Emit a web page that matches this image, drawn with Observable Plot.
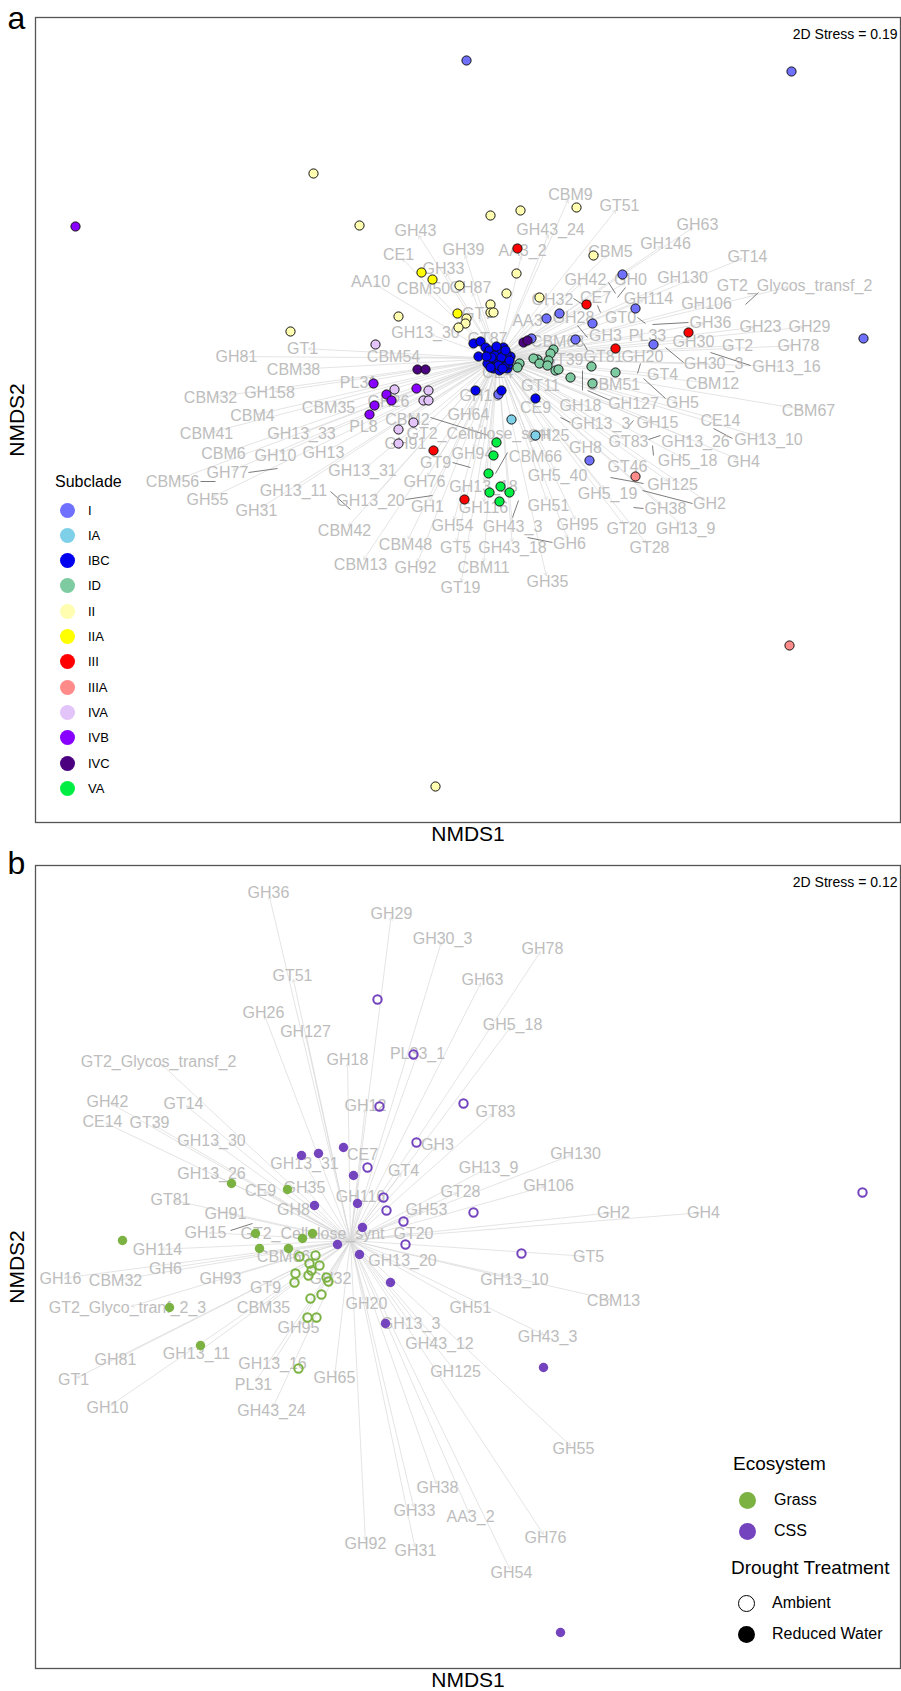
<!DOCTYPE html>
<html><head><meta charset="utf-8">
<script src="https://cdn.jsdelivr.net/npm/d3@7"></script>
<script src="https://cdn.jsdelivr.net/npm/@observablehq/plot@0.6"></script>
<style>
body{margin:0;background:#fff;}
#wrap{position:relative;width:901px;height:1691px;overflow:hidden;font-family:"Liberation Sans",Arial,sans-serif;}
#wrap svg{display:block;}
.abs{position:absolute;white-space:nowrap;line-height:1;}
</style></head><body><div id="wrap"></div>
<script>
const FONT = '"Liberation Sans", Arial, sans-serif';

// ---------- Panel a data ----------
const subclades = ["I","IA","IBC","ID","II","IIA","III","IIIA","IVA","IVB","IVC","VA"];
const subcladeColors = ["#7070FF","#7ECFE8","#0000EE","#7ECBA1","#FFFDAF","#FFFF00","#FF0000","#FF8A8A","#E3C4F9","#8800FF","#4B0080","#00EE44"];

const ptsI = [[-0.31,2.98],[2.94,2.87],[3.66,0.20],[1.25,0.84],[1.38,0.50],[0.49,0.40],[0.62,0.45],[0.95,0.35],[0.78,0.19],[1.56,0.14],[0.34,0.20],[0.01,-0.36],[0.92,-1.02]];
const ptsIA = [[0.14,-0.61],[0.38,-0.77]];
const ptsIBC = [[-0.24,0.15],[-0.17,0.17],[-0.12,0.11],[-0.04,0.06],[0,0],[0.05,0.05],[0.08,-0.04],[-0.07,-0.02],[0.10,-0.10],[0.03,-0.05],[-0.02,-0.02],[-0.09,0.06],[0.13,0.02],[-0.05,-0.08],[0.06,0.11],[-0.19,0.02],[-0.08,0.08],[0.00,0.09],[0.09,0.04],[0.11,-0.06],[-0.04,-0.10],[0.02,-0.12],[-0.10,-0.05],[0.07,-0.08],[-0.03,0.03],[0.04,0.01],[-0.06,0.01],[0.01,-0.07],[0.08,0.08],[-0.11,0.02],[0.12,-0.02],[-0.01,0.12],[0.05,-0.10],[-0.07,-0.09],[-0.22,-0.32],[0.04,-0.32],[0.38,-0.40]];
const ptsID = [[0.56,0.09],[0.53,0.05],[0.51,-0.02],[0.40,-0.01],[0.36,0.00],[0.42,-0.05],[0.50,-0.07],[0.58,-0.12],[0.61,-0.11],[0.22,-0.05],[0.20,-0.09],[0.94,-0.08],[1.18,-0.14],[0.73,-0.19],[0.95,-0.25]];
const ptsII = [[-1.84,1.85],[-1.38,1.33],[-0.07,1.43],[0.23,1.48],[0.79,1.51],[0.96,1.03],[-0.38,0.73],[0.19,0.85],[0.09,0.65],[0.42,0.61],[-0.99,0.42],[-2.07,0.27],[-0.07,0.54],[-0.07,0.46],[-0.04,0.46],[-0.31,0.40],[-0.32,0.35],[-0.39,0.31],[-0.62,-4.28]];
const ptsIIA = [[-0.76,0.86],[-0.65,0.79],[-0.40,0.45]];
const ptsIII = [[0.20,1.10],[0.89,0.54],[1.91,0.26],[1.18,0.10],[-0.64,-0.92],[-0.33,-1.41]];
const ptsIIIA = [[1.38,-1.18],[2.92,-2.87]];
const ptsIVA = [[-1.22,0.14],[-1.03,-0.31],[-0.69,-0.32],[-0.74,-0.42],[-0.69,-0.42],[-0.84,-0.64],[-0.99,-0.71],[-0.99,-0.85]];
const ptsIVB = [[-4.22,1.32],[-1.24,-0.25],[-0.81,-0.30],[-1.11,-0.36],[-1.06,-0.42],[-1.23,-0.47],[-1.28,-0.56]];
const ptsIVC = [[-0.80,-0.11],[-0.72,-0.11],[0.26,0.16],[0.30,0.18]];
const ptsVA = [[-0.01,-0.84],[-0.04,-0.97],[-0.09,-1.15],[0.03,-1.28],[-0.08,-1.34],[0.12,-1.34],[0.02,-1.43]];

const vectorsA = [["CBM9",0.73,1.64],["GT51",1.22,1.53],["GH63",2.00,1.34],["GH43_24",0.53,1.29],["GH146",1.68,1.15],["CBM5",1.13,1.07],["GT14",2.50,1.02],["GH39",-0.34,1.09],["AA3_2",0.25,1.08],["GH43",-0.82,1.28],["CE1",-0.99,1.04],["GH33",-0.54,0.90],["AA10",-1.27,0.77],["CBM50",-0.74,0.70],["GH87",-0.27,0.71],["GH42",0.88,0.79],["GH0",1.33,0.79],["GH130",1.85,0.81],["GT2_Glycos_transf_2",2.97,0.73],["GH32",0.55,0.59],["CE7",0.98,0.61],["GH114",1.51,0.60],["GH106",2.09,0.55],["GT7",-0.20,0.45],["AA3",0.30,0.38],["GH28",0.76,0.41],["GT0",1.23,0.41],["GH36",2.13,0.36],["GH23",2.63,0.32],["GH29",3.12,0.32],["GH13_30",-0.72,0.26],["GT87",-0.10,0.20],["CBM63",0.60,0.17],["GH3",1.08,0.23],["PL33",1.50,0.23],["GH30",1.96,0.17],["GT2",2.40,0.13],["GH78",3.01,0.13],["GT39",0.66,-0.01],["GT81",1.06,0.02],["GH20",1.45,0.02],["GH30_3",2.16,-0.05],["GH13_16",2.89,-0.08],["CE4",0.00,-0.14],["GT4",1.65,-0.16],["GT11",0.43,-0.27],["CBM51",1.16,-0.26],["CBM12",2.15,-0.25],["GH16",-0.17,-0.37],["GH18",0.83,-0.47],["GH127",1.36,-0.45],["GH5",1.85,-0.44],["CE9",0.38,-0.49],["CBM67",3.11,-0.52],["GH64",-0.29,-0.56],["GH13_3",1.03,-0.65],["GH15",1.60,-0.64],["CE14",2.23,-0.62],["GT2_Cellulose_synt",-0.19,-0.75],["GH25",0.51,-0.77],["GT83",1.31,-0.83],["GH13_26",1.98,-0.83],["GH13_10",2.71,-0.81],["GH8",0.88,-0.89],["GH94",-0.25,-0.95],["CBM66",0.38,-0.98],["GH5_18",1.90,-1.02],["GH4",2.46,-1.03],["GT46",1.30,-1.08],["GH5_40",0.60,-1.17],["GH125",1.75,-1.26],["GH13_18",-0.14,-1.28],["GH5_19",1.10,-1.35],["GH2",2.12,-1.45],["GH116",-0.14,-1.49],["GH51",0.51,-1.47],["GH38",1.68,-1.50],["GH54",-0.45,-1.67],["GH43_3",0.15,-1.68],["GH95",0.80,-1.66],["GT20",1.29,-1.70],["GH13_9",1.88,-1.70],["GT5",-0.42,-1.89],["GH43_18",0.15,-1.89],["GH6",0.72,-1.85],["GT28",1.52,-1.89],["CBM11",-0.14,-2.09],["GT19",-0.37,-2.29],["GH35",0.50,-2.23],["CBM41",-2.91,-0.75],["GH13_33",-1.96,-0.75],["PL8",-1.34,-0.68],["CBM6",-2.74,-0.95],["GH10",-2.22,-0.97],["GH13",-1.74,-0.94],["GH91",-0.92,-0.85],["GT9",-0.62,-1.04],["GH77",-2.70,-1.14],["GH13_31",-1.35,-1.12],["CBM56",-3.25,-1.23],["GH55",-2.90,-1.41],["GH13_11",-2.04,-1.32],["GH76",-0.73,-1.23],["GH13_20",-1.27,-1.42],["GH1",-0.70,-1.48],["GH31",-2.41,-1.52],["CBM42",-1.53,-1.72],["CBM48",-0.92,-1.86],["CBM13",-1.37,-2.06],["GH92",-0.82,-2.09],["GT1",-1.95,0.10],["GH81",-2.61,0.02],["CBM54",-1.04,0.02],["CBM38",-2.04,-0.11],["PL31",-1.39,-0.24],["CBM32",-2.87,-0.39],["GH158",-2.28,-0.34],["GH26",-1.09,-0.43],["CBM4",-2.45,-0.57],["CBM35",-1.69,-0.49],["CBM2",-0.90,-0.61]];

// label-to-vector leader segments [x1,y1,x2,y2]
const leadersA = [[-2.49,-1.14,-2.20,-1.10],[-2.97,-1.23,-2.82,-1.23],[-1.67,-1.33,-1.47,-1.51],[-0.92,-1.41,-0.65,-1.37],[-0.45,-1.04,-0.27,-1.09],[-0.67,-0.59,-0.09,-0.77],[2.61,0.66,2.48,0.54],[1.55,0.34,1.91,0.36],[1.68,0.11,1.86,-0.04],[2.13,0.06,2.53,-0.07],[0.90,-0.32,1.13,-0.42],[1.46,-0.20,1.68,-0.40],[1.43,-0.05,1.40,-0.15],[1.11,0.76,1.18,0.65],[1.00,0.53,1.03,0.46],[1.28,0.71,1.20,0.61],[0.76,0.60,0.90,0.51],[0.80,0.33,0.90,0.21],[1.40,0.41,1.48,0.35],[0.86,0.15,0.90,0.08],[0.85,-0.12,0.85,-0.32],[0.63,-0.59,0.73,-0.64],[1.30,-0.69,1.36,-0.62],[1.51,-0.81,1.63,-0.77],[2.16,-0.70,2.35,-0.80],[1.55,-0.87,1.56,-0.97],[1.13,-1.19,1.46,-1.25],[1.45,-1.32,1.95,-1.45],[1.36,-1.49,1.46,-1.50],[0.15,-1.59,0.21,-1.42],[0.30,-1.79,0.55,-1.84],[-0.02,-1.15,0.10,-0.94]];

// ---------- Panel b data ----------
const ecosystems = ["Grass","CSS"];
const ecoColors = ["#7BB241","#7443BE"];
const treatments = ["Ambient","Reduced Water"];

const grassAmbient = [[-0.51,-0.16],[-0.35,-0.15],[-0.41,-0.23],[-0.31,-0.25],[-0.39,-0.30],[-0.55,-0.33],[-0.42,-0.35],[-0.24,-0.37],[-0.22,-0.41],[-0.56,-0.42],[-0.29,-0.54],[-0.40,-0.58],[-0.43,-0.77],[-0.34,-0.77],[-0.52,-1.28]];
const grassReduced = [[-1.19,0.57],[-0.63,0.51],[-0.95,0.07],[-0.48,0.02],[-0.38,0.07],[-0.91,-0.08],[-0.62,-0.08],[-2.28,0.00],[-1.81,-0.67],[-1.50,-1.05]];
const cssAmbient = [[0.27,2.41],[0.63,1.86],[0.29,1.34],[1.13,1.37],[0.66,0.98],[0.17,0.73],[5.12,0.48],[0.33,0.43],[0.36,0.30],[0.53,0.19],[1.23,0.28],[0.55,-0.04],[1.71,-0.13]];
const cssReduced = [[-0.49,0.85],[-0.32,0.87],[-0.07,0.93],[0.03,0.65],[-0.36,0.35],[0.07,0.37],[0.12,0.13],[-0.13,-0.04],[0.09,-0.14],[0.40,-0.42],[0.35,-0.83],[1.93,-1.27],[2.10,-3.92]];

const vectorsB = [["GH36",-0.82,3.48],["GH29",0.41,3.27],["GH30_3",0.92,3.02],["GT51",-0.58,2.65],["GH26",-0.87,2.28],["GH127",-0.45,2.09],["GT2_Glycos_transf_2",-1.92,1.79],["GH18",-0.03,1.81],["PL33_1",0.67,1.87],["GH42",-2.43,1.39],["GT14",-1.67,1.37],["GH12",0.15,1.35],["CE14",-2.48,1.19],["GT39",-2.01,1.18],["GH13_30",-1.39,1.00],["GH3",0.87,0.96],["CE7",0.12,0.86],["GH13_31",-0.46,0.77],["GT4",0.53,0.70],["GH13_26",-1.39,0.67],["GH78",1.92,2.92],["GH63",1.32,2.61],["GH5_18",1.62,2.16],["GT83",1.45,1.29],["GH130",2.25,0.87],["GH13_9",1.38,0.73],["GH106",1.98,0.55],["CE9",-0.90,0.50],["GH35",-0.46,0.53],["GT81",-1.80,0.41],["GH116",0.10,0.44],["GT28",1.10,0.49],["GH91",-1.25,0.27],["GH8",-0.57,0.31],["GH53",0.76,0.31],["GH15",-1.45,0.08],["GT2_Cellulose_synt",-0.38,0.07],["GT20",0.63,0.07],["GH114",-1.93,-0.09],["CBM66",-0.67,-0.16],["GH13_20",0.52,-0.20],["GH6",-1.85,-0.28],["GH16",-2.90,-0.38],["CBM32",-2.35,-0.40],["GH93",-1.30,-0.38],["GT9",-0.85,-0.47],["GH32",-0.20,-0.38],["GT2_Glyco_tranf_2_3",-2.23,-0.67],["CBM35",-0.87,-0.67],["GH20",0.16,-0.63],["GH51",1.20,-0.67],["GH95",-0.52,-0.87],["GH13_3",0.60,-0.83],["GH43_12",0.89,-1.03],["GH81",-2.35,-1.19],["GH13_11",-1.54,-1.13],["GH13_16",-0.78,-1.23],["GH125",1.05,-1.31],["GH65",-0.16,-1.37],["GT1",-2.77,-1.39],["PL31",-0.97,-1.44],["GH10",-2.43,-1.67],["GH43_24",-0.79,-1.70],["GH38",0.87,-2.47],["GH2",2.63,0.28],["GH4",3.53,0.28],["GT5",2.38,-0.16],["GH13_10",1.64,-0.39],["CBM13",2.63,-0.60],["GH43_3",1.97,-0.96],["GH55",2.23,-2.08],["GH33",0.64,-2.70],["AA3_2",1.20,-2.76],["GH76",1.95,-2.97],["GH92",0.15,-3.03],["GH31",0.65,-3.10],["GH54",1.61,-3.32]];
const leadersB = [[-1.20,0.10,-0.98,0.17]];

// ---------- build ----------
const wrap = document.getElementById("wrap");
const vecA = vectorsA.map(([name,x,y]) => ({name,x,y}));
const vecB = vectorsB.map(([name,x,y]) => ({name,x,y}));
const ptsByClade = [ptsI,ptsIA,ptsIBC,ptsID,ptsII,ptsIIA,ptsIII,ptsIIIA,ptsIVA,ptsIVB,ptsIVC,ptsVA];
const dataA = subclades.flatMap((s,i) => ptsByClade[i].map(([x,y]) => ({x,y,subclade:s})));

function common(stress, letter, letterDy){
  return [
    Plot.frame({stroke:"#555", strokeWidth:1.3}),
    Plot.text([stress], {frameAnchor:"top-right", dx:-3, dy:17, fontSize:14, fill:"#000", textAnchor:"end", lineAnchor:"middle"}),
    Plot.text(["NMDS1"], {frameAnchor:"bottom", dy:12, fontSize:21, fill:"#000", lineAnchor:"middle", textAnchor:"middle"}),
    Plot.text(["NMDS2"], {frameAnchor:"left", dx:-18, rotate:-90, fontSize:21, fill:"#000", lineAnchor:"middle", textAnchor:"middle"}),
    Plot.text([letter], {frameAnchor:"top-left", dx:-19, dy:letterDy, fontSize:32, fill:"#000", lineAnchor:"middle", textAnchor:"middle"})
  ];
}

const plotA = Plot.plot({
  width:901, height:845, marginTop:17, marginLeft:35, marginRight:1, marginBottom:23,
  x:{domain:[-4.62,4.03], axis:null},
  y:{domain:[-4.64,3.41], axis:null},
  color:{domain:subclades, range:subcladeColors},
  style:{fontFamily:FONT, background:"white", overflow:"visible"},
  marks:[
    Plot.arrow(vecA, {x1:() => 0, y1:() => 0, x2:"x", y2:"y", stroke:"#d8d8d8", strokeWidth:0.7, headLength:7, insetEnd:6}),
    Plot.link(leadersA, {x1:d=>d[0], y1:d=>d[1], x2:d=>d[2], y2:d=>d[3], stroke:"#5a5a5a", strokeWidth:0.8}),
    Plot.text(vecA, {x:"x", y:"y", text:"name", fill:"#bdbdbd", fontSize:16}),
    Plot.dot(dataA, {x:"x", y:"y", fill:"subclade", r:4.6, stroke:"#111", strokeWidth:1}),
    ...common("2D Stress = 0.19","a",1)
  ]
});
wrap.appendChild(plotA);

const plotB = Plot.plot({
  width:901, height:846, marginTop:20, marginLeft:35, marginRight:1, marginBottom:23,
  x:{domain:[-3.15,5.50], axis:null},
  y:{domain:[-4.28,3.75], axis:null},
  style:{fontFamily:FONT, background:"white", overflow:"visible"},
  marks:[
    Plot.arrow(vecB, {x1:() => 0, y1:() => 0, x2:"x", y2:"y", stroke:"#d8d8d8", strokeWidth:0.7, headLength:7, insetEnd:4}),
    Plot.link(leadersB, {x1:d=>d[0], y1:d=>d[1], x2:d=>d[2], y2:d=>d[3], stroke:"#5a5a5a", strokeWidth:0.8}),
    Plot.text(vecB, {x:"x", y:"y", text:"name", fill:"#bdbdbd", fontSize:16}),
    Plot.dot(grassAmbient, {x:d=>d[0], y:d=>d[1], r:4.2, stroke:ecoColors[0], strokeWidth:2, fill:"none"}),
    Plot.dot(cssAmbient, {x:d=>d[0], y:d=>d[1], r:4.2, stroke:ecoColors[1], strokeWidth:2, fill:"none"}),
    Plot.dot(grassReduced, {x:d=>d[0], y:d=>d[1], r:4.7, fill:ecoColors[0]}),
    Plot.dot(cssReduced, {x:d=>d[0], y:d=>d[1], r:4.7, fill:ecoColors[1]}),
    ...common("2D Stress = 0.12","b",-2)
  ]
});
wrap.appendChild(plotB);

// ---------- legends (HTML overlay) ----------
function addText(txt, left, cy, size){
  const d = document.createElement("div");
  d.className = "abs"; d.textContent = txt;
  d.style.left = left+"px"; d.style.top = (cy - size*0.5)+"px";
  d.style.fontSize = size+"px"; d.style.height = size+"px"; d.style.lineHeight = size+"px";
  d.style.color = "#000";
  wrap.appendChild(d);
}
function addCircle(cx, cy, r, fill, stroke, sw){
  const d = document.createElement("div");
  d.className = "abs";
  d.style.left = (cx-r)+"px"; d.style.top = (cy-r)+"px";
  d.style.width = (2*r)+"px"; d.style.height = (2*r)+"px";
  d.style.borderRadius = "50%"; d.style.boxSizing = "border-box";
  d.style.background = fill;
  if (stroke) d.style.border = sw+"px solid "+stroke;
  wrap.appendChild(d);
}
addText("Subclade", 55, 482, 16);
subclades.forEach((s,i) => {
  const cy = 510 + i*25.3;
  addCircle(67, cy, 7.5, subcladeColors[i]);
  addText(s, 88, cy, 13);
});
addText("Ecosystem", 733, 1463, 19);
ecosystems.forEach((e,i) => {
  const cy = 1500 + i*31;
  addCircle(747, cy, 8.5, ecoColors[i]);
  addText(e, 774, cy, 16);
});
addText("Drought Treatment", 731, 1567, 19);
treatments.forEach((t,i) => {
  const cy = 1603 + i*31;
  if (i === 0) addCircle(746, cy, 8.5, "#fff", "#000", 1); else addCircle(746, cy, 8.5, "#000");
  addText(t, 772, cy, 16);
});
</script></body></html>
